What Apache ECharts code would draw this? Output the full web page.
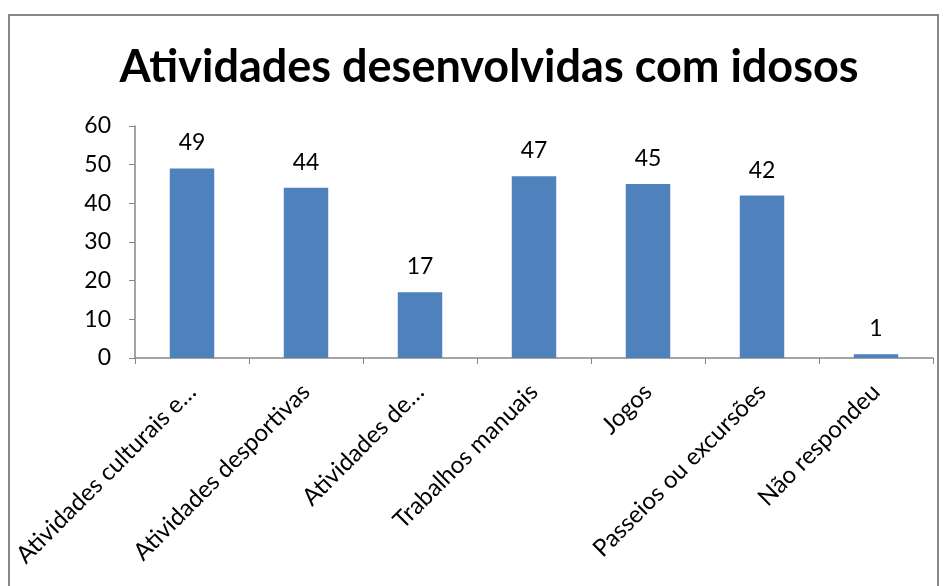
<!DOCTYPE html>
<html><head><meta charset="utf-8">
<script src="https://cdn.jsdelivr.net/npm/echarts@6/dist/echarts.min.js"></script>
<style>html,body{margin:0;padding:0;background:#fff}#c{width:952px;height:586px}</style>
</head><body><div id="c"></div>
<script>
var categories = ["Atividades culturais e…","Atividades desportivas","Atividades de…","Trabalhos manuais","Jogos","Passeios ou excursões","Não respondeu"];
var values = [49,44,17,47,45,42,1];
var yTicks = [0,10,20,30,40,50,60];
var titleText = "Atividades desenvolvidas com idosos";
var FONT = "Lato";
var chart = echarts.init(document.getElementById('c'));
chart.setOption({
  animation:false,
  backgroundColor:'#fff',
  graphic:[{type:'rect',shape:{x:9,y:15,width:929,height:600},style:{fill:'none',stroke:'#868686',lineWidth:2},silent:true}],
  title:{text:titleText,left:484,textAlign:'center',top:40,textStyle:{fontFamily:FONT,fontWeight:'bold',fontSize:45,color:'#000'}},
  grid:{left:135,right:19,top:126,bottom:228},
  xAxis:{type:'category',data:categories,
    axisLine:{lineStyle:{color:'#868686',width:1.5}},
    axisTick:{show:true,length:6,lineStyle:{color:'#868686'}},
    axisLabel:{rotate:45,interval:0,fontFamily:FONT,fontSize:24,color:'#000',margin:30}},
  yAxis:{type:'value',min:0,max:60,interval:10,
    axisLine:{show:true,lineStyle:{color:'#868686',width:1.5}},
    axisTick:{show:true,inside:false,length:6,lineStyle:{color:'#868686'}},
    splitLine:{show:false},
    axisLabel:{fontFamily:FONT,fontSize:23,color:'#000',margin:24,formatter:function(v){return yTicks.indexOf(v)>=0?String(v):'';}}},
  series:[{type:'bar',data:values,barWidth:'39%',itemStyle:{color:'#4F81BD'},
    label:{show:true,position:'top',distance:14,fontFamily:FONT,fontSize:23,color:'#000'}}]
});
</script></body></html>
